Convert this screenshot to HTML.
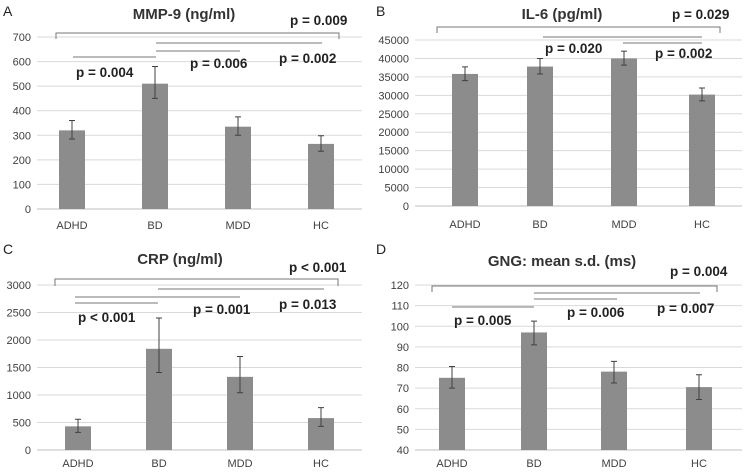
<!DOCTYPE html>
<html><head><meta charset="utf-8"><style>
html,body{margin:0;padding:0;background:#fff;}
svg{display:block;font-family:"Liberation Sans",sans-serif;}
</style></head><body>
<svg id="chart" width="745" height="474" viewBox="0 0 745 474" xmlns="http://www.w3.org/2000/svg"></svg>
<script>
const categories = ["ADHD","BD","MDD","HC"];
const mmpValues = [320,510,335,265];
const mmpLow = [285,450,300,235];
const mmpHigh = [360,580,375,298];
const mmpTicks = [0,100,200,300,400,500,600,700];
const il6Values = [35800,37800,40000,30200];
const il6Low = [34000,35800,38200,28500];
const il6High = [37700,40000,42000,32000];
const il6Ticks = [0,5000,10000,15000,20000,25000,30000,35000,40000,45000];
const crpValues = [430,1840,1330,580];
const crpLow = [320,1410,1040,430];
const crpHigh = [560,2400,1700,770];
const crpTicks = [0,500,1000,1500,2000,2500,3000];
const gngValues = [75,97,78,70.5];
const gngLow = [70,91,72.5,64.5];
const gngHigh = [80.5,102.5,83,76.5];
const gngTicks = [40,50,60,70,80,90,100,110,120];

const svg = document.getElementById('chart');
const NS = 'http://www.w3.org/2000/svg';
function mk(tag, attrs, parent, txt){
  const e = document.createElementNS(NS, tag);
  for (const k in attrs) e.setAttribute(k, attrs[k]);
  if (txt !== undefined) e.textContent = txt;
  parent.appendChild(e);
  return e;
}

const panels = [
  {id:'mmp9', letter:'A', lx:3, ly:16, title:'MMP-9 (ng/ml)', tx:184, ty:19, vals:mmpValues, lo:mmpLow, hi:mmpHigh, ticks:mmpTicks,
   y0:209, y1:37, gx0:37, gx1:362, cx:[72,155,238,321], labY:229,
   bracket:{y:33, x0:56, x1:339, d:6}, lines:[[57,73,156],[51,156,240],[43,156,322]],
   ps:[['p = 0.009',290,25],['p = 0.004',76,77],['p = 0.006',190,68],['p = 0.002',279,63]]},
  {id:'il6', letter:'B', lx:376, ly:16, title:'IL-6 (pg/ml)', tx:562, ty:19, vals:il6Values, lo:il6Low, hi:il6High, ticks:il6Ticks,
   y0:206, y1:40, gx0:415, gx1:742, cx:[465,540,624,702], labY:228,
   bracket:{y:27, x0:437, x1:720, d:6}, lines:[[37,543,702],[43,623,702]],
   ps:[['p = 0.029',672,19],['p = 0.020',545,53],['p = 0.002',655,58]]},
  {id:'crp', letter:'C', lx:3, ly:254, title:'CRP (ng/ml)', tx:180, ty:264, vals:crpValues, lo:crpLow, hi:crpHigh, ticks:crpTicks,
   y0:450, y1:285, gx0:37, gx1:362, cx:[78,159,240,321], labY:467,
   bracket:{y:279, x0:55, x1:338, d:7}, lines:[[297,75,240],[303,75,158],[289,158,324]],
   ps:[['p < 0.001',289,272],['p < 0.001',78,322],['p = 0.001',193,314],['p = 0.013',279,309]]},
  {id:'gng', letter:'D', lx:376, ly:254, title:'GNG: mean s.d. (ms)', tx:562, ty:266, vals:gngValues, lo:gngLow, hi:gngHigh, ticks:gngTicks,
   y0:450, y1:285, gx0:415, gx1:742, cx:[452,534,614,699], labY:467,
   bracket:{y:286, x0:432, x1:717, d:6}, lines:[[307,452,534],[299,534,617],[293,534,700]],
   ps:[['p = 0.004',670,276],['p = 0.005',454,325],['p = 0.006',567,317],['p = 0.007',657,313]]}
];

panels.forEach(p => {
  const g = mk('g', {}, svg);
  
  
  const tmin = p.ticks[0], tmax = p.ticks[p.ticks.length-1];
  const ys = v => p.y0 + (v - tmin) / (tmax - tmin) * (p.y1 - p.y0);
  p.ticks.forEach((t,i) => {
    const y = ys(t);
    const gl = mk('line', {x1:p.gx0, x2:p.gx1, y1:y, y2:y, stroke: i===0 ? '#bfbfbf' : '#d9d9d9', 'stroke-width':1}, g);
    
    
    const tl = mk('text', {x:p.gx0-6, y:y+4, 'text-anchor':'end', 'font-size':11, fill:'#404040'}, g, String(t));
    
    
  });
  p.vals.forEach((v,i) => {
    const x = p.cx[i];
    const b = mk('rect', {x:x-13, y:ys(v), width:26, height:p.y0-ys(v), fill:'#8c8c8c'}, g);
    
    
    const eb = mk('path', {d:`M${x},${ys(p.lo[i])}V${ys(p.hi[i])}M${x-3},${ys(p.lo[i])}H${x+3}M${x-3},${ys(p.hi[i])}H${x+3}`, stroke:'#404040', 'stroke-width':1, fill:'none'}, g);
    
    
    const cl = mk('text', {x:x, y:p.labY, 'text-anchor':'middle', 'font-size':11, fill:'#404040'}, g, categories[i]);
    
    
  });
  const lt = mk('text', {x:p.lx, y:p.ly, 'font-size':14, fill:'#222'}, g, p.letter);
  
  
  const tt = mk('text', {x:p.tx, y:p.ty, 'text-anchor':'middle', 'font-size':15, 'font-weight':'bold', fill:'#333'}, g, p.title);
  
  
  const br = p.bracket;
  const bp = mk('path', {d:`M${br.x0},${br.y+br.d}V${br.y}H${br.x1}V${br.y+br.d}`, stroke:'#777', 'stroke-width':1, fill:'none'}, g);
  
  
  p.lines.forEach(l => {
    const sl = mk('line', {x1:l[1], x2:l[2], y1:l[0], y2:l[0], stroke:'#777', 'stroke-width':1}, g);
    
    
  });
  p.ps.forEach(s => {
    const pt = mk('text', {x:s[1], y:s[2], 'font-size':13.5, 'font-weight':'bold', fill:'#222'}, g, s[0]);
    
    
  });
});
</script>
</body></html>
